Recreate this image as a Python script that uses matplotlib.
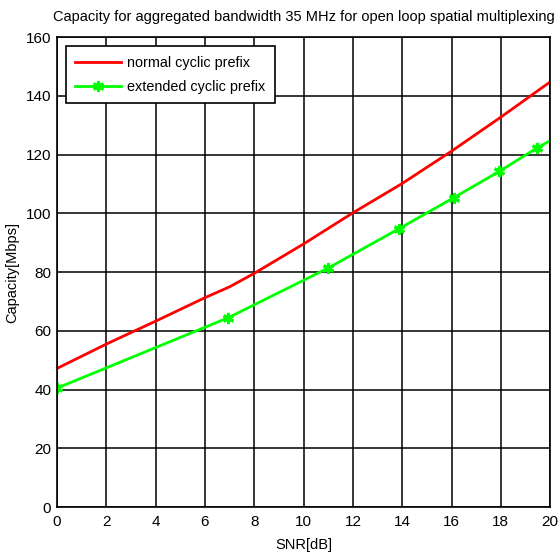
import matplotlib.pyplot as plt

plt.rcParams["font.family"] = ["Liberation Sans", "DejaVu Sans"]

# SNR sample points and capacity values [Mbps]
snr_normal = [0, 2, 4, 6, 7, 8, 10, 12, 14, 16, 18, 20]
cap_normal = [47.2, 55.5, 63.3, 71.3, 75.0, 79.6, 89.6, 100.2, 110.2, 121.2, 132.8, 144.8]

snr_extended = [0, 6.95, 11.0, 13.85, 16.1, 17.93, 19.45, 20]
cap_extended = [40.5, 64.5, 81.4, 94.7, 105.4, 114.3, 122.2, 124.8]
marker_idx = [0, 1, 2, 3, 4, 5, 6]

x_ticks = list(range(0, 21, 2))
y_ticks = list(range(0, 161, 20))

fig = plt.figure(figsize=(5.58, 5.56), dpi=100)
ax = fig.add_axes([0.102, 0.088, 0.884, 0.845])

ax.plot(snr_normal, cap_normal, color="#ff0000", lw=2, label="normal cyclic prefix")
ax.plot(snr_extended, cap_extended, color="#00ff00", lw=2,
        marker=(6, 2, 0), markersize=8, markeredgewidth=2.2,
        markevery=marker_idx, label="extended cyclic prefix")

ax.set_xlim(0, 20)
ax.set_ylim(0, 160)
ax.set_xticks(x_ticks)
ax.set_yticks(y_ticks)
ax.tick_params(axis="x", direction="in", length=0, labelsize=11, pad=6)
ax.tick_params(axis="y", direction="in", length=0, labelsize=11, pad=4)
ax.grid(True, color="black", lw=1.1, ls="-")
for s in ax.spines.values():
    s.set_linewidth(1.2)

ax.set_title("Capacity for aggregated bandwidth 35 MHz for open loop spatial multiplexing",
             fontsize=10.5, pad=12)
ax.set_xlabel("SNR[dB]", fontsize=10.5, labelpad=6)
ax.set_ylabel("Capacity[Mbps]", fontsize=10.5, labelpad=5)

leg = ax.legend(loc="upper left", fontsize=10.4, fancybox=False, framealpha=1,
                edgecolor="black", borderaxespad=0.62, handlelength=3.2,
                handletextpad=0.4, borderpad=0.65, labelspacing=0.7)
leg.get_frame().set_linewidth(1.2)

fig.savefig("out.png", dpi=100)
plt.close(fig)
